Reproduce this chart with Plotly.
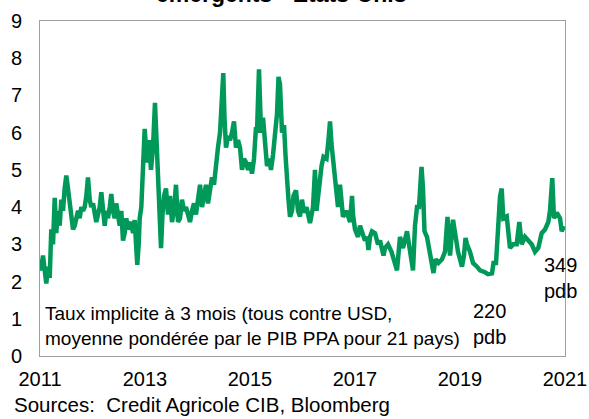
import plotly.graph_objects as go

# Fractional years and the implied 3-month rate spread (in %)
years = [
    2011.000, 2011.025, 2011.057, 2011.090, 2011.120, 2011.152, 2011.185, 2011.215,
    2011.248, 2011.280, 2011.310, 2011.343, 2011.375, 2011.406, 2011.438, 2011.470,
    2011.501, 2011.533, 2011.566, 2011.596, 2011.629, 2011.661, 2011.691, 2011.724,
    2011.756, 2011.787, 2011.819, 2011.851, 2011.882, 2011.914, 2011.947, 2011.977,
    2012.010, 2012.042, 2012.072, 2012.105, 2012.137, 2012.168, 2012.200, 2012.232,
    2012.263, 2012.295, 2012.328, 2012.358, 2012.390, 2012.423, 2012.453, 2012.486,
    2012.518, 2012.549, 2012.581, 2012.613, 2012.644, 2012.676, 2012.709, 2012.739,
    2012.771, 2012.804, 2012.834, 2012.853, 2012.880, 2012.899, 2012.930, 2012.962,
    2012.994, 2013.038, 2013.076, 2013.114, 2013.152, 2013.190, 2013.229, 2013.257,
    2013.286, 2013.305, 2013.333, 2013.362, 2013.400, 2013.438, 2013.476, 2013.514,
    2013.552, 2013.590, 2013.629, 2013.667, 2013.705, 2013.743, 2013.781, 2013.819,
    2013.857, 2013.895, 2013.933, 2013.971, 2014.010, 2014.048, 2014.086, 2014.124,
    2014.162, 2014.200, 2014.238, 2014.276, 2014.314, 2014.352, 2014.390, 2014.429,
    2014.467, 2014.491, 2014.514, 2014.543, 2014.581, 2014.619, 2014.657, 2014.695,
    2014.733, 2014.771, 2014.810, 2014.848, 2014.886, 2014.924, 2014.962, 2015.000,
    2015.038, 2015.076, 2015.114, 2015.133, 2015.171, 2015.210, 2015.248, 2015.286,
    2015.324, 2015.362, 2015.400, 2015.438, 2015.476, 2015.514, 2015.543, 2015.571,
    2015.610, 2015.648, 2015.676, 2015.705, 2015.733, 2015.762, 2015.800, 2015.829,
    2015.876, 2015.914, 2015.952, 2015.990, 2016.029, 2016.076, 2016.143, 2016.200,
    2016.238, 2016.267, 2016.305, 2016.362, 2016.400, 2016.457, 2016.495, 2016.524,
    2016.552, 2016.590, 2016.619, 2016.676, 2016.714, 2016.771, 2016.838, 2016.905,
    2016.943, 2016.962, 2017.000, 2017.057, 2017.095, 2017.133, 2017.190, 2017.229,
    2017.257, 2017.286, 2017.324, 2017.381, 2017.438, 2017.476, 2017.514, 2017.543,
    2017.571, 2017.629, 2017.695, 2017.762, 2017.800, 2017.857, 2017.914, 2017.990,
    2018.048, 2018.105, 2018.143, 2018.181, 2018.219, 2018.267, 2018.295, 2018.324,
    2018.371, 2018.429, 2018.467, 2018.495, 2018.533, 2018.590, 2018.657, 2018.714,
    2018.762, 2018.810, 2018.867, 2018.905, 2018.962, 2019.038, 2019.076, 2019.105,
    2019.133, 2019.190, 2019.248, 2019.324, 2019.381, 2019.476, 2019.533, 2019.610,
    2019.638, 2019.686, 2019.724, 2019.762, 2019.794, 2019.825, 2019.890, 2019.920,
    2019.952, 2020.015, 2020.080, 2020.130, 2020.175, 2020.238, 2020.301, 2020.366,
    2020.429, 2020.491, 2020.556, 2020.619, 2020.682, 2020.714, 2020.758, 2020.790,
    2020.842, 2020.905, 2020.937, 2020.980,
]
spread = [
    2.60, 2.30, 2.70, 2.20, 1.95, 2.40, 2.10, 3.40,
    3.00, 4.25, 3.30, 3.90, 3.50, 4.20, 3.90, 4.50,
    4.85, 4.50, 4.10, 3.60, 3.40, 3.50, 3.70, 3.90,
    3.70, 4.00, 3.90, 4.00, 4.30, 4.80, 4.20, 4.00,
    4.10, 3.90, 3.60, 3.80, 4.00, 4.40, 3.80, 3.50,
    3.90, 3.70, 4.00, 4.35, 3.90, 3.70, 4.10, 3.80,
    3.50, 3.90, 3.10, 3.30, 3.70, 3.40, 3.50, 3.60,
    3.30, 3.65, 2.90, 2.45, 3.00, 3.70, 4.00, 5.10,
    6.10, 5.20, 5.80, 5.00, 5.60, 6.80, 5.50, 4.60,
    4.00, 2.90, 3.80, 4.30, 4.50, 3.80, 4.30, 3.60,
    3.90, 4.60, 3.60, 3.70, 4.20, 3.90, 4.00, 3.80,
    3.60, 3.90, 4.10, 3.80, 4.20, 4.60, 4.00, 4.30,
    4.60, 4.10, 4.40, 4.80, 4.60, 5.20, 5.60, 6.00,
    7.00, 7.60, 6.40, 5.60, 5.90, 5.80, 6.00, 6.30,
    5.60, 5.80, 5.60, 5.00, 5.30, 5.20, 5.00, 5.20,
    4.90, 5.30, 6.15, 6.00, 7.70, 6.00, 6.40, 5.60,
    5.10, 5.30, 5.00, 5.40, 5.90, 6.50, 7.50, 7.30,
    6.00, 6.20, 5.40, 4.60, 4.20, 3.74, 3.90, 4.30,
    4.45, 3.90, 3.75, 4.20, 3.85, 4.00, 3.57, 4.00,
    5.00, 3.90, 4.40, 5.10, 5.35, 5.30, 5.80, 6.30,
    5.70, 5.20, 4.60, 4.00, 4.60, 3.74, 3.90, 3.60,
    4.30, 3.80, 3.40, 3.20, 3.50, 3.30, 3.10, 3.20,
    2.85, 3.20, 3.35, 3.30, 3.00, 3.10, 2.90, 2.70,
    2.90, 3.00, 2.80, 2.50, 2.30, 3.20, 2.90, 3.35,
    2.90, 2.30, 3.50, 4.00, 4.00, 5.08, 4.50, 3.35,
    3.20, 2.80, 2.50, 2.23, 2.60, 2.50, 2.60, 2.80,
    3.74, 2.70, 3.66, 3.30, 2.80, 2.40, 2.70, 3.17,
    3.00, 2.80, 2.50, 2.40, 2.30, 2.25, 2.20, 2.22,
    2.50, 2.50, 3.35, 4.28, 4.50, 3.70, 3.75, 3.20,
    2.90, 3.00, 3.00, 3.60, 3.00, 3.20, 3.10, 3.00,
    2.80, 2.90, 3.30, 3.40, 3.60, 3.90, 4.78, 3.70,
    3.85, 3.70, 3.35, 3.49,
]

year_ticks = [2011, 2013, 2015, 2017, 2019, 2021]
y_ticks = list(range(0, 10))

FONT = "Liberation Sans, Arial, sans-serif"
GREEN = "#00995A"
FRAME = "#A0A0A0"

fig = go.Figure(
    go.Scatter(
        x=years,
        y=spread,
        mode="lines",
        line=dict(color=GREEN, width=4.5),
        hoverinfo="skip",
    )
)

fig.update_layout(
    width=589,
    height=419,
    margin=dict(l=40, r=24, t=21, b=63),
    paper_bgcolor="white",
    plot_bgcolor="white",
    showlegend=False,
    font=dict(family=FONT, size=20, color="black"),
)

axis_common = dict(
    showgrid=False,
    zeroline=False,
    showline=True,
    mirror=True,
    linecolor=FRAME,
    linewidth=1,
    ticks="outside",
    ticklen=0,
    automargin=False,
    tickfont=dict(size=20),
)
fig.update_xaxes(
    range=[2011, 2021],
    tickmode="array",
    tickvals=year_ticks,
    ticktext=[str(v) for v in year_ticks],
    ticklabelstandoff=5,
    **axis_common,
)
fig.update_yaxes(
    range=[0, 9],
    tickmode="array",
    tickvals=y_ticks,
    ticktext=[str(v) for v in y_ticks],
    ticklabelstandoff=13,
    **axis_common,
)

annotations = [
    # chart title (its lower line reaches the top of the page)
    dict(text="<b>émergents - Etats-Unis</b>", xref="paper", yref="paper",
         x=0.46, y=1.080, xanchor="center", yanchor="middle",
         showarrow=False, font=dict(size=23)),
    # series description
    dict(text="Taux implicite à 3 mois (tous contre USD,<br>"
              "moyenne pondérée par le PIB PPA pour 21 pays)",
         xref="x", yref="y", x=2011.06, y=0.81, xanchor="left", yanchor="middle",
         align="left", showarrow=False, font=dict(size=19)),
    # level at the 2019 trough
    dict(text="220<br>pdb", xref="x", yref="y", x=2019.21, y=0.86,
         xanchor="left", yanchor="middle", align="left", showarrow=False,
         font=dict(size=20)),
    # latest level
    dict(text="349<br>pdb", xref="x", yref="y", x=2020.56, y=2.10,
         xanchor="left", yanchor="middle", align="left", showarrow=False,
         font=dict(size=20)),
    # sources
    dict(text="Sources:  Credit Agricole CIB, Bloomberg", xref="paper", yref="paper",
         x=-0.054, y=-0.146, xanchor="left", yanchor="middle", align="left",
         showarrow=False, font=dict(size=20.5)),
]
fig.update_layout(annotations=annotations)

fig.write_html("out.html")
